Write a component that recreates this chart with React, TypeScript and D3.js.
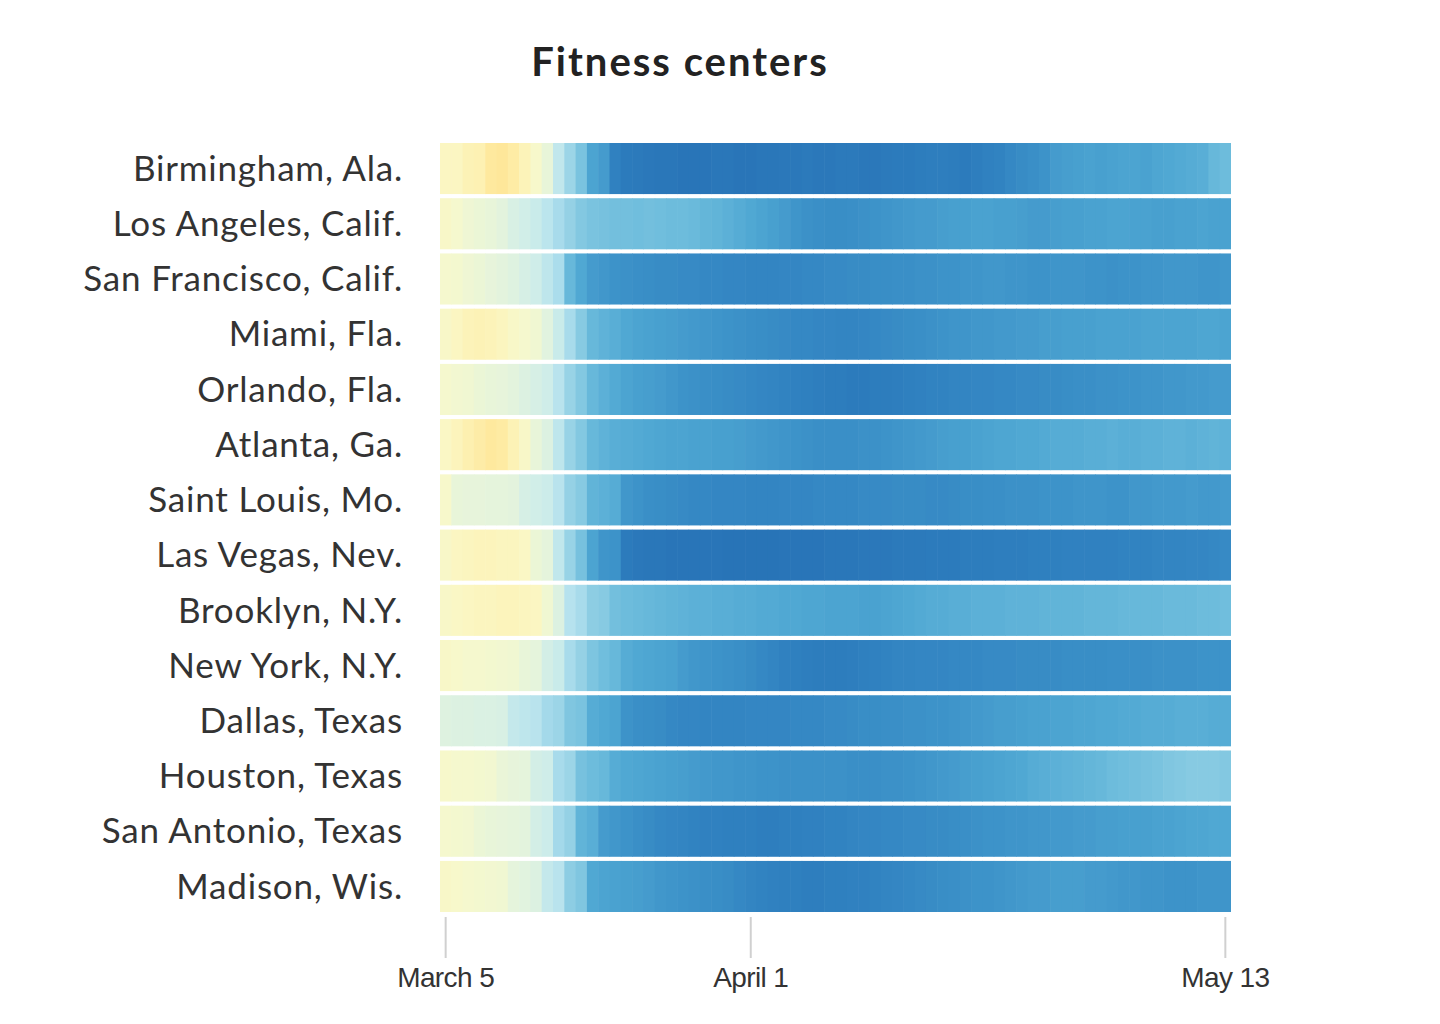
import React from "react";
import * as d3 from "d3";

// ---------- DATA ----------
const title = "Fitness centers";

const cities = [
  "Birmingham, Ala.",
  "Los Angeles, Calif.",
  "San Francisco, Calif.",
  "Miami, Fla.",
  "Orlando, Fla.",
  "Atlanta, Ga.",
  "Saint Louis, Mo.",
  "Las Vegas, Nev.",
  "Brooklyn, N.Y.",
  "New York, N.Y.",
  "Dallas, Texas",
  "Houston, Texas",
  "San Antonio, Texas",
  "Madison, Wis.",
];

// % change in visits vs. baseline, one value per day, March 5 – May 13
const birmingham = [4,4,8,9,18,20,15,7,1,-8,-25,-36,-46,-62,-66,-80,-84,-85,-86,-87,-87,-88,-88,-88,-87,-87,-88,-88,-87,-87,-86,-86,-85,-86,-86,-85,-85,-86,-86,-85,-84,-84,-83,-82,-82,-83,-84,-82,-80,-79,-76,-74,-72,-70,-66,-65,-64,-63,-64,-63,-62,-62,-63,-61,-60,-59,-58,-57,-52,-50];
const losAngeles = [2,0,-4,-6,-8,-11,-16,-19,-22,-27,-33,-38,-43,-46,-47,-48,-48,-49,-48,-49,-50,-50,-51,-53,-54,-56,-58,-60,-62,-64,-66,-69,-71,-72,-73,-73,-72,-71,-70,-69,-68,-67,-66,-66,-65,-64,-64,-63,-63,-64,-64,-65,-66,-66,-65,-64,-64,-63,-63,-62,-62,-63,-63,-64,-64,-63,-63,-62,-63,-63];
const sanFrancisco = [0,-1,-4,-6,-9,-11,-13,-17,-20,-26,-32,-52,-60,-66,-68,-70,-71,-72,-73,-74,-74,-75,-75,-76,-76,-77,-77,-78,-78,-78,-77,-77,-76,-76,-75,-75,-74,-74,-73,-73,-72,-72,-71,-71,-70,-70,-69,-69,-68,-68,-69,-69,-70,-70,-69,-69,-69,-70,-70,-71,-70,-70,-69,-69,-68,-68,-68,-69,-69,-68];
const miami = [2,4,7,8,7,5,2,0,-3,-12,-22,-33,-42,-52,-55,-57,-60,-62,-63,-64,-65,-66,-67,-68,-69,-70,-71,-72,-73,-74,-75,-76,-76,-77,-77,-78,-78,-77,-76,-75,-74,-73,-72,-71,-70,-69,-69,-68,-68,-67,-67,-66,-66,-65,-65,-64,-64,-64,-63,-63,-63,-63,-62,-62,-62,-62,-62,-61,-61,-62];
const orlando = [0,-2,-3,-6,-8,-9,-11,-14,-17,-20,-28,-37,-43,-52,-56,-59,-62,-64,-65,-66,-68,-70,-71,-72,-73,-74,-75,-76,-77,-78,-79,-80,-81,-82,-83,-83,-84,-84,-83,-83,-82,-81,-80,-79,-79,-78,-78,-77,-77,-76,-76,-75,-75,-74,-74,-73,-72,-72,-71,-71,-70,-70,-69,-69,-68,-68,-67,-67,-66,-66];
const atlanta = [3,6,10,14,18,16,8,2,-8,-14,-26,-37,-43,-52,-55,-57,-58,-59,-60,-61,-62,-62,-63,-63,-64,-64,-65,-66,-67,-68,-69,-70,-71,-72,-72,-72,-72,-71,-71,-70,-69,-68,-67,-66,-65,-64,-64,-63,-62,-61,-61,-60,-60,-59,-58,-58,-58,-57,-57,-56,-57,-57,-56,-56,-55,-55,-56,-55,-54,-55];
const saintLouis = [1,-8,-9,-9,-10,-10,-11,-17,-19,-21,-28,-38,-42,-54,-56,-58,-68,-70,-72,-73,-74,-75,-76,-76,-77,-77,-77,-78,-78,-78,-77,-77,-77,-76,-76,-76,-76,-75,-75,-75,-74,-74,-74,-75,-75,-74,-73,-73,-72,-72,-71,-71,-71,-70,-70,-70,-69,-69,-69,-70,-70,-68,-68,-67,-67,-67,-66,-67,-67,-66];
const lasVegas = [2,4,5,6,6,5,5,3,-6,-10,-25,-37,-47,-62,-69,-70,-84,-86,-87,-87,-88,-88,-88,-88,-88,-89,-89,-89,-89,-89,-88,-88,-88,-88,-87,-87,-87,-86,-86,-86,-85,-85,-85,-84,-84,-84,-83,-83,-83,-82,-82,-82,-81,-81,-81,-80,-80,-80,-80,-80,-79,-79,-79,-78,-78,-78,-77,-77,-76,-75];
const brooklyn = [2,3,4,5,5,6,6,5,4,-3,-14,-29,-33,-40,-42,-48,-50,-51,-52,-53,-54,-55,-56,-56,-57,-57,-58,-58,-59,-59,-60,-60,-61,-61,-62,-62,-62,-63,-63,-62,-61,-60,-59,-58,-58,-57,-57,-56,-56,-56,-55,-55,-55,-54,-54,-54,-54,-53,-53,-53,-52,-52,-52,-52,-51,-51,-51,-50,-50,-49];
const newYork = [2,1,0,0,-1,-2,-3,-8,-10,-18,-22,-33,-38,-45,-49,-52,-58,-60,-61,-62,-63,-66,-68,-69,-70,-71,-72,-74,-76,-78,-80,-81,-82,-83,-83,-83,-82,-81,-80,-79,-78,-78,-77,-77,-77,-76,-76,-76,-75,-75,-75,-74,-74,-74,-74,-73,-73,-73,-73,-72,-72,-72,-72,-71,-71,-71,-71,-70,-70,-70];
const dallas = [-13,-14,-14,-15,-15,-16,-24,-26,-28,-34,-36,-44,-46,-58,-60,-62,-70,-72,-73,-74,-76,-77,-77,-78,-78,-78,-78,-77,-77,-77,-77,-76,-76,-76,-75,-75,-74,-73,-73,-72,-72,-71,-71,-70,-70,-69,-68,-67,-66,-65,-65,-64,-63,-63,-62,-62,-61,-61,-60,-60,-59,-59,-58,-58,-58,-57,-57,-57,-58,-58];
const houston = [1,0,0,-1,-2,-7,-9,-10,-18,-20,-33,-36,-47,-50,-52,-58,-60,-61,-62,-63,-64,-65,-66,-67,-68,-68,-69,-69,-70,-70,-71,-71,-71,-71,-71,-71,-72,-72,-72,-71,-71,-70,-69,-68,-67,-66,-65,-64,-63,-62,-61,-60,-58,-57,-56,-55,-54,-53,-52,-50,-49,-48,-47,-46,-44,-43,-42,-42,-42,-43];
const sanAntonio = [0,-1,-2,-6,-8,-9,-10,-11,-18,-21,-34,-38,-54,-57,-66,-68,-70,-72,-74,-76,-77,-78,-79,-80,-80,-81,-81,-81,-82,-82,-81,-81,-80,-80,-79,-79,-78,-77,-77,-76,-76,-75,-75,-74,-74,-73,-72,-71,-70,-70,-69,-69,-68,-68,-67,-67,-66,-66,-65,-65,-64,-64,-64,-63,-63,-62,-61,-61,-60,-60];
const madison = [2,1,0,-1,-2,-3,-10,-12,-14,-24,-28,-40,-44,-60,-62,-63,-64,-65,-66,-68,-69,-70,-71,-72,-73,-74,-76,-78,-79,-80,-81,-81,-82,-82,-81,-81,-80,-80,-79,-78,-77,-76,-75,-74,-73,-72,-71,-70,-70,-69,-68,-67,-66,-66,-65,-65,-65,-66,-66,-67,-68,-68,-69,-69,-70,-70,-70,-69,-69,-69];

const series = [
  birmingham, losAngeles, sanFrancisco, miami, orlando, atlanta, saintLouis,
  lasVegas, brooklyn, newYork, dallas, houston, sanAntonio, madison,
];

const firstDay = new Date(2020, 2, 5);
const lastDay = new Date(2020, 4, 13);
const tickDates = [new Date(2020, 2, 5), new Date(2020, 3, 1), new Date(2020, 4, 13)];
const tickLabels = ["March 5", "April 1", "May 13"];

// colour ramp (value -> colour)
const colorDomain = [20, 10, 4, 0, -10, -20, -30, -40, -50, -60, -70, -80, -90];
const colorRange = [
  "#fee79a", "#fdf0b0", "#fbf6c2", "#f5f8ce", "#e5f4dc", "#cfede9", "#b3e1ee",
  "#8dcde3", "#6dbcdc", "#50a8d3", "#3d93c9", "#3081c0", "#2772b6",
];

// ---------- LAYOUT ----------
const W = 1440;
const H = 1024;
const M = { left: 440, right: 1231, top: 143, bottom: 912 };

export default function App() {
  const days = d3.timeDay.range(firstDay, d3.timeDay.offset(lastDay, 1));
  const key = (d: Date) => d3.timeFormat("%Y-%m-%d")(d);

  const x = d3
    .scaleBand<string>()
    .domain(days.map(key))
    .range([M.left, M.right])
    .padding(0);

  const y = d3
    .scaleBand<string>()
    .domain(cities)
    .range([M.top, M.bottom])
    .paddingInner(0.075)
    .paddingOuter(0);

  const color = d3
    .scaleLinear<string>()
    .domain(colorDomain)
    .range(colorRange)
    .interpolate(d3.interpolateRgb)
    .clamp(true);

  const bw = x.bandwidth();

  return (
    <div style={{ position: "absolute", left: 0, top: 0 }}>
      <svg width={W} height={H} style={{ display: "block", background: "#fff" }}>
        <text
          x={680}
          y={76}
          textAnchor="middle"
          fontFamily="Lato, 'Open Sans', sans-serif"
          fontWeight={700}
          fontSize={40}
          letterSpacing={2}
          fill="#222"
        >
          {title}
        </text>

        {cities.map((c, ci) => (
          <g key={c}>
            {series[ci].map((v, di) => (
              <rect
                key={di}
                x={x(key(days[di]))!}
                y={y(c)!}
                width={bw + (di < days.length - 1 ? 0.6 : 0)}
                height={y.bandwidth()}
                fill={color(v)}
              />
            ))}
            <text
              x={403}
              y={y(c)! + y.bandwidth() / 2}
              dy="0.35em"
              textAnchor="end"
              fontFamily="Lato, 'Open Sans', sans-serif"
              fontSize={35}
              letterSpacing={0.8}
              fill="#333"
            >
              {c}
            </text>
          </g>
        ))}

        {tickDates.map((d, i) => {
          const tx = x(key(d))! + bw / 2;
          return (
            <g key={tickLabels[i]}>
              <line x1={tx} x2={tx} y1={917} y2={958} stroke="#d0d0d0" strokeWidth={2} />
              <text
                x={tx}
                y={987}
                textAnchor="middle"
                fontFamily="'Liberation Sans', Arial, sans-serif"
                fontSize={28}
                letterSpacing={-0.6}
                fill="#333"
              >
                {tickLabels[i]}
              </text>
            </g>
          );
        })}
      </svg>
    </div>
  );
}
